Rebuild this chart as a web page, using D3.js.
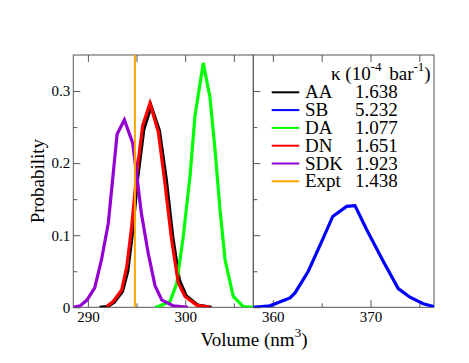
<!DOCTYPE html>
<html>
<head>
<meta charset="utf-8">
<script src="https://cdn.jsdelivr.net/npm/d3@7"></script>
<style>
  body { margin: 0; background: #fff; }
</style>
</head>
<body>
<svg id="chart" width="469" height="363"></svg>
<script>
// volumes (nm^3) and probabilities
const aaVol  = [291.2, 292.0, 292.7, 293.55, 294.1, 294.6, 295.12, 295.75, 296.5, 297.35, 298.05, 298.73, 299.4, 300.1, 301.3, 302.7];
const aaProb = [0, 0.001, 0.007, 0.022, 0.05, 0.106, 0.18, 0.247, 0.279, 0.245, 0.178, 0.097, 0.038, 0.016, 0.003, 0];
const sbVol  = [358, 359.7, 361.76, 362.27, 363.63, 365.16, 366.13, 367.56, 368.41, 369.6, 371.3, 372.84, 374.04, 375.4, 376.5];
const sbProb = [0, 0.002, 0.013, 0.020, 0.050, 0.096, 0.126, 0.140, 0.141, 0.108, 0.064, 0.026, 0.014, 0.005, 0.001];
const daVol  = [296.9, 297.24, 298.44, 299.13, 299.8, 300.5, 301.0, 301.86, 302.55, 303.07, 303.58, 304.1, 304.94, 305.97, 307.0];
const daProb = [0, 0.001, 0.008, 0.033, 0.098, 0.182, 0.265, 0.339, 0.291, 0.218, 0.135, 0.066, 0.015, 0.001, 0];
const dnVol  = [291.93, 292.6, 293.47, 293.99, 294.5, 295.02, 295.63, 296.38, 297.24, 297.92, 298.61, 299.29, 299.98, 301.18, 302.55];
const dnProb = [0.001, 0.008, 0.024, 0.056, 0.112, 0.186, 0.252, 0.283, 0.243, 0.172, 0.093, 0.034, 0.015, 0.003, 0];
const sdkVol  = [288.5, 289.2, 289.9, 290.7, 291.4, 292.1, 293.0, 293.75, 294.6, 295.0, 295.5, 296.2, 296.9, 297.6, 298.8, 300.3];
const sdkProb = [0, 0.002, 0.010, 0.027, 0.066, 0.117, 0.240, 0.260, 0.228, 0.186, 0.130, 0.075, 0.030, 0.010, 0.002, 0];
const exptVol = 294.83;

const names  = ["AA", "SB", "DA", "DN", "SDK", "Expt"];
const kappa  = ["1.638", "5.232", "1.077", "1.651", "1.923", "1.438"];
const colors = ["#000000", "#0000ff", "#00ff00", "#ff0000", "#9400d3", "#ffa500"];

const yTicks = [0, 0.1, 0.2, 0.3];
const yMinor = [0.05, 0.15, 0.25];
const leftTicks = [290, 300], leftMinor = [295, 305];
const rightTicks = [360, 370], rightMinor = [365, 375];

const FONT = '"Liberation Serif", "Times New Roman", Times, "DejaVu Serif", serif';

const svg = d3.select("#chart");
const plotTop = 55, plotBottom = 307.3;
const x0 = 73.3, xm = 253.3, x1 = 434;

const y = d3.scaleLinear().domain([0, 0.35]).range([plotBottom, plotTop]);
const xL = d3.scaleLinear().domain([288.5, 307]).range([x0, xm]);
const xR = d3.scaleLinear().domain([358, 376.5]).range([xm, x1]);

// clip paths
const defs = svg.append("defs");
defs.append("clipPath").attr("id", "clipL").append("rect")
    .attr("x", x0).attr("y", plotTop).attr("width", xm - x0).attr("height", plotBottom - plotTop);
defs.append("clipPath").attr("id", "clipR").append("rect")
    .attr("x", xm).attr("y", plotTop).attr("width", x1 - xm).attr("height", plotBottom - plotTop);

function axes(xs, major, minor, withYLabels) {
    const g = svg.append("g");
    const bx = g.append("g").attr("transform", `translate(0,${plotBottom})`)
        .call(d3.axisBottom(xs).tickValues(major).tickSize(-7).tickPadding(4).tickFormat(d3.format("d")));
    bx.append("g").call(d3.axisBottom(xs).tickValues(minor).tickSize(-4).tickFormat(""));
    g.append("g").attr("transform", `translate(0,${plotTop})`)
        .call(d3.axisTop(xs).tickValues(major.concat(minor)).tickSize(-7).tickFormat(""));
    const ly = g.append("g").attr("transform", `translate(${xs.range()[0]},0)`)
        .call(d3.axisLeft(y).tickValues(yTicks).tickSize(-7).tickPadding(3)
            .tickFormat(withYLabels ? (d => d === 0 ? "0" : d3.format(".1f")(d)) : ""));
    ly.append("g").call(d3.axisLeft(y).tickValues(yMinor).tickSize(-4).tickFormat(""));
    g.selectAll(".domain").remove();
    g.selectAll("g").attr("font-family", null).attr("font-size", null);
    g.selectAll(".tick line").attr("stroke", "#555");
    g.selectAll("text").style("font-family", FONT).style("font-size", "15px").attr("fill", "#000");
}
axes(xL, leftTicks, leftMinor, true);
axes(xR, rightTicks, rightMinor, false);

// frames
svg.append("rect").attr("x", x0).attr("y", plotTop).attr("width", xm - x0).attr("height", plotBottom - plotTop)
    .attr("fill", "none").attr("stroke", "#555");
svg.append("rect").attr("x", xm).attr("y", plotTop).attr("width", x1 - xm).attr("height", plotBottom - plotTop)
    .attr("fill", "none").attr("stroke", "#555");

function curve(xs, vols, probs, color, clip) {
    const pts = vols.map((v, i) => [v, probs[i]]);
    svg.append("path").datum(pts)
        .attr("clip-path", `url(#${clip})`)
        .attr("fill", "none").attr("stroke", color).attr("stroke-width", 3.2)
        .attr("stroke-linejoin", "miter")
        .attr("d", d3.line().x(d => xs(d[0])).y(d => y(d[1])));
}
curve(xL, aaVol, aaProb, colors[0], "clipL");
curve(xR, sbVol, sbProb, colors[1], "clipR");
curve(xL, daVol, daProb, colors[2], "clipL");
curve(xL, dnVol, dnProb, colors[3], "clipL");
curve(xL, sdkVol, sdkProb, colors[4], "clipL");
svg.append("line")
    .attr("x1", xL(exptVol)).attr("x2", xL(exptVol))
    .attr("y1", y(0)).attr("y2", plotTop)
    .attr("stroke", colors[5]).attr("stroke-width", 2);

// axis labels
svg.append("text").attr("transform", `translate(44,${(plotTop + plotBottom) / 2}) rotate(-90)`)
    .attr("text-anchor", "middle").style("font-family", FONT).style("font-size", "19px").text("Probability");
const xl = svg.append("text").attr("x", 254).attr("y", 345.5).attr("text-anchor", "middle")
    .style("font-family", FONT).style("font-size", "19px");
xl.append("tspan").text("Volume (nm");
xl.append("tspan").attr("dy", -9).style("font-size", "13px").text("3");
xl.append("tspan").attr("dy", 9).text(")");

// legend
const lt = svg.append("text").attr("x", 331).attr("y", 79.5).style("font-family", FONT).style("font-size", "19px");
lt.append("tspan").text("κ (10");
lt.append("tspan").attr("dy", -9).style("font-size", "13px").text("-4");
lt.append("tspan").attr("dy", 9).attr("dx", 3).text(" bar");
lt.append("tspan").attr("dy", -9).style("font-size", "13px").text("-1");
lt.append("tspan").attr("dy", 9).text(")");

const rows = svg.append("g").selectAll("g").data(names).join("g")
    .attr("transform", (d, i) => `translate(0,${98.3 + i * 17.8})`);
rows.append("line").attr("x1", 271.7).attr("x2", 299.3).attr("y1", -6).attr("y2", -6)
    .attr("stroke", (d, i) => colors[i]).attr("stroke-width", 2);
rows.append("text").attr("x", 305).style("font-family", FONT).style("font-size", "19px").text(d => d);
rows.append("text").attr("x", 355).style("font-family", FONT).style("font-size", "19px").text((d, i) => kappa[i]);
</script>
</body>
</html>
